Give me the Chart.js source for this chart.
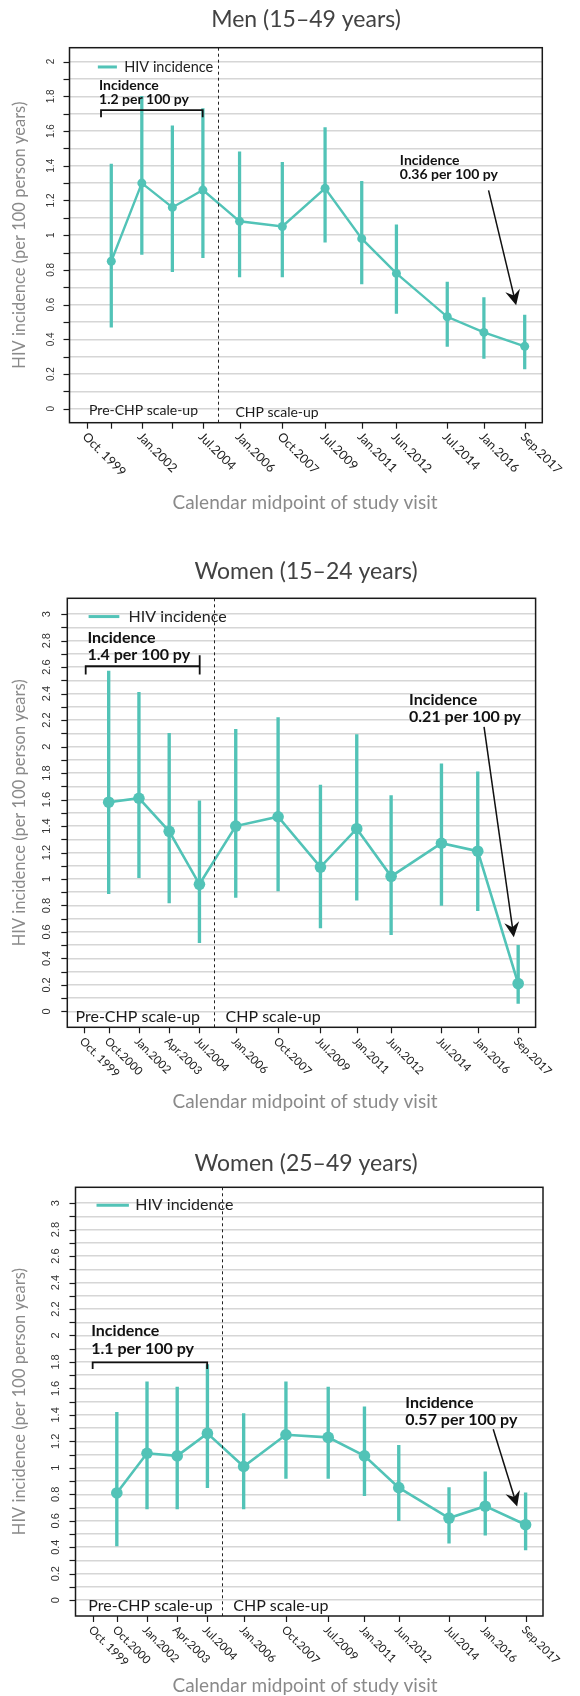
<!DOCTYPE html>
<html lang="en">
<head>
<meta charset="UTF-8">
<title>HIV incidence by calendar period</title>
<script src="https://cdn.jsdelivr.net/npm/chart.js"></script>
<style>
  body { margin: 0; background: #fff; }
  canvas.panel { position: absolute; left: 0; }
</style>
</head>
<body>
<canvas id="men" class="panel" width="580" height="535" style="top:0px"></canvas>
<canvas id="young" class="panel" width="580" height="595" style="top:535px"></canvas>
<canvas id="older" class="panel" width="580" height="566" style="top:1130px"></canvas>

<script>
// calendar midpoint of each study visit (decimal years)
const visitYears = [2000.75, 2002.0, 2003.25, 2004.5, 2006.0, 2007.75, 2009.5, 2011.0, 2012.42, 2014.5, 2016.0, 2017.67];

// x axis ticks and their labels
const xTickYears = [1999.75, 2000.75, 2002.0, 2003.25, 2004.5, 2006.0, 2007.75, 2009.5, 2011.0, 2012.42, 2014.5, 2016.0, 2017.67];
const xTickLabels = ['Oct. 1999', 'Oct.2000', 'Jan.2002', 'Apr.2003', 'Jul.2004', 'Jan.2006', 'Oct.2007', 'Jul.2009', 'Jan.2011', 'Jun.2012', 'Jul.2014', 'Jan.2016', 'Sep.2017'];
const menXTickLabels = ['Oct. 1999', '', 'Jan.2002', '', 'Jul.2004', 'Jan.2006', 'Oct.2007', 'Jul.2009', 'Jan.2011', 'Jun.2012', 'Jul.2014', 'Jan.2016', 'Sep.2017'];

// y axis labels
const menYTicks = [0, 0.2, 0.4, 0.6, 0.8, 1, 1.2, 1.4, 1.6, 1.8, 2];
const womenYTicks = [0, 0.2, 0.4, 0.6, 0.8, 1, 1.2, 1.4, 1.6, 1.8, 2, 2.2, 2.4, 2.6, 2.8, 3];

// Men 15-49: incidence per 100 person years with 95% CI
const menRate = [0.85, 1.30, 1.16, 1.26, 1.08, 1.05, 1.27, 0.98, 0.78, 0.53, 0.44, 0.36];
const menLow  = [0.47, 0.89, 0.79, 0.87, 0.76, 0.76, 0.96, 0.72, 0.55, 0.36, 0.29, 0.23];
const menHigh = [1.41, 1.80, 1.63, 1.73, 1.48, 1.42, 1.62, 1.31, 1.06, 0.73, 0.64, 0.54];

// Women 15-24
const youngRate = [1.58, 1.61, 1.36, 0.96, 1.40, 1.47, 1.09, 1.38, 1.02, 1.27, 1.21, 0.21];
const youngLow  = [0.89, 1.01, 0.82, 0.52, 0.86, 0.91, 0.63, 0.84, 0.58, 0.80, 0.76, 0.06];
const youngHigh = [2.57, 2.41, 2.10, 1.59, 2.13, 2.22, 1.71, 2.09, 1.63, 1.87, 1.81, 0.50];

// Women 25-49
const olderRate = [0.81, 1.11, 1.09, 1.26, 1.01, 1.25, 1.23, 1.09, 0.85, 0.62, 0.71, 0.57];
const olderLow  = [0.41, 0.69, 0.69, 0.85, 0.69, 0.92, 0.92, 0.79, 0.60, 0.43, 0.49, 0.38];
const olderHigh = [1.42, 1.65, 1.61, 1.78, 1.41, 1.65, 1.61, 1.46, 1.17, 0.85, 0.97, 0.81];

const TEAL = '#52c3b7';
const X_MIN = 1999.04, X_MAX = 2018.39;
const DIVIDER = 2005.1;   // start of CHP scale-up

function text(ctx, s, x, y, font, color, align, base, angle) {
  ctx.save();
  ctx.translate(x, y);
  if (angle) ctx.rotate(angle);
  ctx.font = font;
  ctx.fillStyle = color;
  ctx.textAlign = align || 'left';
  ctx.textBaseline = base || 'middle';
  ctx.fillText(s, 0, 0);
  ctx.restore();
}

function decor(p) {
  return {
    id: 'decor',
    afterDraw(chart) {
      const { ctx, chartArea: a, scales: { x, y } } = chart;
      const X = v => x.getPixelForValue(v), Y = v => y.getPixelForValue(v);
      const n = p.notes;
      ctx.save();

      // divider between periods
      ctx.strokeStyle = '#222';
      ctx.lineWidth = 1;
      ctx.setLineDash([3, 3]);
      ctx.beginPath();
      ctx.moveTo(Math.round(X(DIVIDER)) + 0.5, a.top);
      ctx.lineTo(Math.round(X(DIVIDER)) + 0.5, a.bottom);
      ctx.stroke();
      ctx.setLineDash([]);

      // plot box
      ctx.strokeStyle = '#1a1a1a';
      ctx.lineWidth = 1.5;
      ctx.strokeRect(a.left, a.top, a.right - a.left, a.bottom - a.top);

      // y ticks every 0.1, labels every 0.2
      ctx.lineWidth = 1.2;
      y.ticks.forEach(t => {
        const py = Math.round(Y(t.value)) + 0.5;
        ctx.beginPath();
        ctx.moveTo(a.left - 6, py);
        ctx.lineTo(a.left, py);
        ctx.stroke();
      });
      p.yTicks.forEach(v => {
        text(ctx, String(v), a.left - p.yLabelGap, Y(v), p.yFont, '#333', 'center', 'middle', -Math.PI / 2);
      });

      // x ticks with slanted labels
      xTickYears.forEach((v, i) => {
        const px = Math.round(X(v)) + 0.5;
        ctx.beginPath();
        ctx.moveTo(px, a.bottom);
        ctx.lineTo(px, a.bottom + 6);
        ctx.stroke();
        if (p.xLabels[i]) {
          text(ctx, p.xLabels[i], px - 3, a.bottom + 12, p.xFont, '#222', 'left', 'middle', Math.PI / 4);
        }
      });

      // legend
      ctx.strokeStyle = TEAL;
      ctx.lineWidth = 3;
      ctx.beginPath();
      ctx.moveTo(X(n.legend.x0), Y(n.legend.y));
      ctx.lineTo(X(n.legend.x1), Y(n.legend.y));
      ctx.stroke();
      text(ctx, 'HIV incidence', X(n.legend.tx), Y(n.legend.y), p.noteFont, '#222');

      // bracket over the pre-CHP period
      const b = n.bracket;
      ctx.strokeStyle = '#111';
      ctx.lineWidth = 1.8;
      ctx.beginPath();
      ctx.moveTo(X(b.x0), Y(b.foot));
      ctx.lineTo(X(b.x0), Y(b.y));
      ctx.lineTo(X(b.x1), Y(b.y));
      ctx.lineTo(X(b.x1), Y(b.foot));
      if (b.top) {
        ctx.moveTo(X(b.x1), Y(b.y));
        ctx.lineTo(X(b.x1), Y(b.top));
      }
      ctx.stroke();
      text(ctx, 'Incidence', X(n.first.x), Y(n.first.y1), p.boldFont, '#111');
      text(ctx, n.first.label, X(n.first.x), Y(n.first.y2), p.boldFont, '#111');
      text(ctx, 'Incidence', X(n.last.x), Y(n.last.y1), p.boldFont, '#111');
      text(ctx, n.last.label, X(n.last.x), Y(n.last.y2), p.boldFont, '#111');

      // arrow to the latest estimate
      const r = n.arrow;
      const x0 = X(r.x0), y0 = Y(r.y0), x1 = X(r.x1), y1 = Y(r.y1);
      const ang = Math.atan2(y1 - y0, x1 - x0);
      ctx.lineWidth = 1.5;
      ctx.beginPath();
      ctx.moveTo(x0, y0);
      ctx.lineTo(x1 - 8 * Math.cos(ang), y1 - 8 * Math.sin(ang));
      ctx.stroke();
      ctx.save();
      ctx.translate(x1, y1);
      ctx.rotate(ang);
      ctx.fillStyle = '#111';
      ctx.beginPath();
      ctx.moveTo(0, 0);
      ctx.lineTo(-15, -7.5);
      ctx.lineTo(-10, 0);
      ctx.lineTo(-15, 7.5);
      ctx.closePath();
      ctx.fill();
      ctx.restore();

      // period labels
      text(ctx, 'Pre-CHP scale-up', X(n.pre[0]), Y(n.pre[1]), p.phaseFont, '#1a1a1a');
      text(ctx, 'CHP scale-up', X(n.post[0]), Y(n.post[1]), p.phaseFont, '#1a1a1a');

      // titles
      text(ctx, p.title, 306, p.titleY, '23px Lato', '#424242', 'center');
      text(ctx, 'Calendar midpoint of study visit', 305, p.xTitleY, '19px Lato', '#8a8a8a', 'center');
      text(ctx, 'HIV incidence (per 100 person years)', 20, (a.top + a.bottom) / 2, '16.5px Lato', '#8a8a8a', 'center', 'middle', -Math.PI / 2);
      ctx.restore();
    }
  };
}

function draw(p) {
  const gridValues = [];
  for (let k = 0; k <= p.yMax * 10; k++) gridValues.push(k / 10);
  const pad = p.yMax * 0.04;

  new Chart(document.getElementById(p.id), {
    type: 'line',
    data: {
      datasets: [{
        type: 'line',
        label: 'HIV incidence',
        data: visitYears.map((v, i) => ({ x: v, y: p.rate[i] })),
        borderColor: TEAL,
        backgroundColor: TEAL,
        borderWidth: p.lineWidth,
        pointRadius: p.pointRadius,
        pointHoverRadius: p.pointRadius,
        pointBorderWidth: 0,
        tension: 0,
        order: 0
      }, {
        type: 'bar',
        label: '95% CI',
        data: visitYears.map((v, i) => ({ x: v, y: [p.low[i], p.high[i]] })),
        backgroundColor: TEAL,
        borderWidth: 0,
        barThickness: p.ciWidth,
        order: 1
      }]
    },
    options: {
      responsive: false,
      animation: false,
      events: [],
      layout: { padding: p.pad },
      plugins: { legend: { display: false }, tooltip: { enabled: false }, title: { display: false } },
      scales: {
        x: {
          type: 'linear', min: X_MIN, max: X_MAX, offset: false,
          display: false,
          afterFit: s => { s.height = 0; }
        },
        y: {
          type: 'linear', min: -pad, max: p.yMax + pad,
          border: { display: false },
          grid: { color: '#d6d6d6', lineWidth: 1.5, drawTicks: false },
          ticks: { display: false },
          afterBuildTicks: s => { s.ticks = gridValues.map(v => ({ value: v })); },
          afterFit: s => { s.width = 0; }
        }
      }
    },
    plugins: [decor(p)]
  });
}

draw({
  id: 'men', title: 'Men (15–49 years)',
  rate: menRate, low: menLow, high: menHigh,
  yMax: 2, yTicks: menYTicks, xLabels: menXTickLabels,
  pad: { left: 69.5, top: 47.7, right: 37.7, bottom: 112.3 },
  lineWidth: 2.4, pointRadius: 4.5, ciWidth: 2.6,
  yFont: '10px "Liberation Sans"', yLabelGap: 18,
  xFont: '12.5px Lato', noteFont: '14.5px Lato', boldFont: 'bold 14px Lato', phaseFont: '14px Lato',
  titleY: 20, xTitleY: 503,
  notes: {
    legend: { x0: 2000.2, x1: 2000.98, tx: 2001.28, y: 1.969 },
    bracket: { x0: 2000.33, x1: 2004.49, y: 1.72, foot: 1.68 },
    first: { x: 2000.25, y1: 1.862, y2: 1.783, label: '1.2 per 100 py' },
    last: { x: 2012.56, y1: 1.432, y2: 1.351, label: '0.36 per 100 py' },
    arrow: { x0: 2016.19, y0: 1.258, x1: 2017.32, y1: 0.597 },
    pre: [1999.84, -0.007], post: [2005.83, -0.02]
  }
});

draw({
  id: 'young', title: 'Women (15–24 years)',
  rate: youngRate, low: youngLow, high: youngHigh,
  yMax: 3, yTicks: womenYTicks, xLabels: xTickLabels,
  pad: { left: 67.3, top: 63.3, right: 44.4, bottom: 102.7 },
  lineWidth: 2.6, pointRadius: 5.8, ciWidth: 2.7,
  yFont: '11px "Liberation Sans"', yLabelGap: 20,
  xFont: '11.5px Lato', noteFont: '16px Lato', boldFont: 'bold 16px Lato', phaseFont: '16px Lato',
  titleY: 37, xTitleY: 567,
  notes: {
    legend: { x0: 1999.92, x1: 2001.19, tx: 2001.57, y: 2.982 },
    bracket: { x0: 1999.8, x1: 2004.51, y: 2.607, foot: 2.545, top: 2.69 },
    first: { x: 1999.87, y1: 2.82, y2: 2.69, label: '1.4 per 100 py' },
    last: { x: 2013.16, y1: 2.35, y2: 2.225, label: '0.21 per 100 py' },
    arrow: { x0: 2016.26, y0: 2.149, x1: 2017.49, y1: 0.561 },
    pre: [1999.38, -0.038], post: [2005.58, -0.038]
  }
});

draw({
  id: 'older', title: 'Women (25–49 years)',
  rate: olderRate, low: olderLow, high: olderHigh,
  yMax: 3, yTicks: womenYTicks, xLabels: xTickLabels,
  pad: { left: 75.5, top: 57.3, right: 37, bottom: 80 },
  lineWidth: 2.6, pointRadius: 5.8, ciWidth: 2.7,
  yFont: '11px "Liberation Sans"', yLabelGap: 20,
  xFont: '11.5px Lato', noteFont: '16px Lato', boldFont: 'bold 16px Lato', phaseFont: '16px Lato',
  titleY: 34, xTitleY: 556,
  notes: {
    legend: { x0: 1999.91, x1: 2001.25, tx: 2001.51, y: 2.985 },
    bracket: { x0: 1999.75, x1: 2004.49, y: 1.797, foot: 1.747 },
    first: { x: 1999.69, y1: 2.033, y2: 1.9, label: '1.1 per 100 py' },
    last: { x: 2012.69, y1: 1.494, y2: 1.361, label: '0.57 per 100 py' },
    arrow: { x0: 2016.33, y0: 1.291, x1: 2017.32, y1: 0.708 },
    pre: [1999.57, -0.04], post: [2005.57, -0.04]
  }
});
</script>
</body>
</html>
